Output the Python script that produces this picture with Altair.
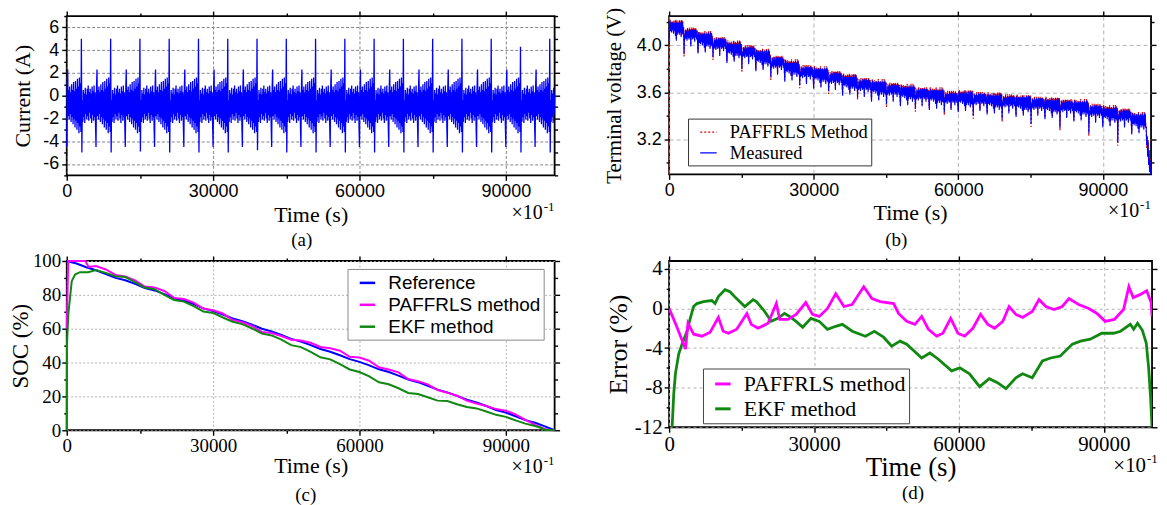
import json
import altair as alt
import pandas as pd

SERIF = "Liberation Serif"
SANS = "Liberation Sans"

# ---------------- shared axis ticks ----------------
X_MAJ = [0, 30000, 60000, 90000]
X_MIN = [15000, 45000, 75000]
X_DOM = [0, 100000]

# ---------------- (a) current profile ----------------
# one repeated test cycle (6000 units long, one value every 100 units, starting at the big pulse)
CUR_STEP = 100
CUR_CYCLE = 6000
CUR_FIRST = 3000
cur_cycle = [
    None, None, -0.4, -2.3, 0.5, -1.9, 0.2, -2.4, 0.7, -1.6,
    0.1, -2.1, 0.6, -1.8, 0.9, -2.2, 0.3, -1.5, 0.6, -2.0,
    0.2, -2.4, 0.8, -1.7, 0.4, -2.2, 0.9, -1.9, 0.3, -2.6,
    -4.5, 0.6, 2.3, -1.8, 0.5, -2.1, 0.8, -1.6, 0.3, -2.3,
    1.0, -1.9, 0.5, -2.5, 1.2, -2.0, 0.4, -2.8, 1.3, -2.2,
    0.6, -3.0, 1.5, -2.4, 0.8, -3.3, 1.6, -2.7, 1.1, -3.2,
]
pulse_hi = [5.0, 5.0, 5.0, 5.0, 5.0, 5.0, 5.0, 5.0, 5.0, 5.0, 5.0, 5.0, 5.0, 5.0, 5.0, 4.3, 5.0]
pulse_lo = [-5.0, -5.0, -4.9, -5.0, -5.0, -5.0, -4.8, -5.0, -5.0, -5.0, -5.0, -5.0, -5.0, -5.0, -5.0, -5.0, -5.0]

# ---------------- (b) terminal voltage ----------------
# upper edge of the measured band, one value per 3000 units
v_edge = [4.21, 4.15, 4.11, 4.07, 4.03, 4.00, 3.96, 3.91, 3.87, 3.83, 3.81, 3.78,
          3.75, 3.72, 3.70, 3.68, 3.66, 3.64, 3.63, 3.61, 3.61, 3.60, 3.59, 3.58,
          3.57, 3.56, 3.55, 3.54, 3.53, 3.50, 3.48, 3.46, 3.42, 3.30]
# ripple under the edge inside one cycle (None = big pulse dip)
v_cycle = [
    0.00, None, -0.06, -0.10, -0.02, -0.09, -0.03, -0.11, -0.01, -0.08,
    -0.03, -0.10, -0.01, -0.09, -0.02, -0.16, -0.01, -0.08, -0.02, -0.10,
    -0.01, -0.09, -0.02, -0.12, -0.01, -0.08, -0.02, -0.10, -0.03, -0.12,
    -0.18, -0.02, 0.00, -0.09, -0.02, -0.10, -0.01, -0.08, -0.02, -0.11,
    -0.01, -0.09, -0.02, -0.13, 0.00, -0.17, -0.02, -0.12, -0.01, -0.10,
    -0.02, -0.12, 0.00, -0.10, -0.02, -0.14, 0.00, -0.11, -0.01, -0.12,
]
v_dip = [3.93, 3.90, 3.80, 3.73, 3.66, 3.61, 3.56, 3.50, 3.46, 3.43, 3.40, 3.37,
         3.33, 3.30, 3.25, 3.17, 3.15]
v_tail_t = [99200, 99300, 99400, 99500, 99600, 99700, 99800, 99900, 100000]
v_tail = [3.22, 3.05, 3.18, 2.98, 3.10, 2.92, 3.02, 2.90, 2.95]
paffrls_v_shift = 0.012
paffrls_dip_extra = -0.025
paffrls_v_start = 2.90

# ---------------- (c) SOC ----------------
soc_ref_t = list(range(0, 100001, 2000))
soc_ref = [100.0, 98.5, 96.3, 94.5, 92.3, 90.0, 88.6, 86.5, 84.0, 82.6, 80.4, 78.0, 76.5,
           74.5, 72.0, 70.4, 68.4, 66.0, 64.4, 62.4, 60.0, 58.4, 56.3, 54.0, 52.4, 50.3,
           48.0, 46.4, 44.3, 42.0, 40.4, 38.3, 36.0, 34.4, 32.3, 30.0, 28.4, 26.3, 24.0,
           22.4, 20.3, 18.0, 16.4, 14.3, 12.0, 10.4, 8.3, 6.0, 4.4, 2.3, 0.0]
soc_pa_t = [0, 300, 3800, 4500] + list(range(6000, 98001, 2000)) + [99000, 100000]
soc_pa = [60.0, 100.0, 100.0, 96.5,
          97.0, 95.0, 91.8, 90.8, 88.6, 84.9, 84.4, 82.3, 78.2, 77.6, 75.4, 71.9, 70.9,
          69.0, 65.1, 63.8, 61.6, 58.1, 57.4, 55.7, 53.5, 53.0, 51.7, 49.2, 48.4, 47.0,
          43.4, 43.0, 41.1, 37.2, 35.9, 34.2, 30.3, 29.0, 27.1, 23.8, 22.2, 20.4, 17.5,
          15.8, 14.3, 12.5, 11.6, 9.4, 6.1, 3.2, 0.7,
          0.2, 0.0]
soc_ekf_t = [0, 50, 340, 1020, 1700, 2700, 4400] + list(range(6000, 96001, 2000)) + [97000, 98000, 100000]
soc_ekf = [0.0, 51.0, 69.0, 88.0, 92.0, 93.4, 93.4,
           94.6, 93.0, 91.0, 90.5, 87.5, 84.3, 83.3, 80.0, 76.9, 76.0, 73.3, 70.2, 69.3,
           66.6, 64.1, 62.7, 60.1, 57.2, 56.0, 53.5, 50.3, 49.1, 46.3, 43.1, 41.9, 39.1,
           35.9, 34.4, 31.8, 28.3, 27.2, 24.8, 22.0, 21.4, 19.5, 17.5, 17.3, 15.4, 13.7,
           12.9, 11.1, 9.1, 7.9, 5.8, 3.9, 2.5,
           1.6, 0.3, 0.0]

# ---------------- (d) error ----------------
err_pa_t = [0, 1300, 3400, 3900, 5100, 6800, 8500, 10200, 11200, 12300, 14000, 16100, 17000,
            18400, 20500, 22200, 22900, 24600, 26300, 28300, 29700, 31100, 32800, 34500,
            36200, 37900, 40300, 42000, 43700, 46500, 47500, 49200, 50900, 52300, 53700,
            55400, 56700, 58300, 59800, 61200, 62900, 64500, 66000, 67400, 69100, 70400,
            71800, 73200, 75200, 76600, 78000, 79700, 81400, 82800, 84800, 86900, 88600,
            90300, 92200, 94100, 95200, 96100, 97500, 98900, 99800, 100000]
err_pa = [0.0, -1.5, -4.1, -1.5, -2.6, -2.8, -2.4, -0.9, -2.3, -2.5, -2.1, -0.5, -1.6,
          -2.0, -1.5, 0.5, -1.1, -1.1, -0.6, 0.6, -0.6, -0.8, 0.0, 1.5,
          0.2, 0.4, 2.2, 1.0, 0.7, 0.5, -0.5, -1.3, -1.6, -0.8, -2.1,
          -2.8, -2.5, -1.0, -2.5, -2.8, -2.0, -0.6, -1.6, -2.0, -1.3, 0.2,
          -0.6, -0.9, -0.3, 0.9, 0.2, -0.1, 0.2, 1.0, 0.4, 0.0, -0.5,
          -1.3, -1.1, -0.1, 2.2, 1.1, 1.4, 1.8, 0.6, -0.8]
err_ekf_t = [0, 300, 620, 960, 1300, 1980, 2670, 3700, 4380, 5060, 5750, 7120, 8830, 9510,
             10200, 11570, 12600, 13960, 15670, 17380, 18070, 19780, 21150, 22520, 23890,
             24920, 26290, 27660, 29370, 31080, 32790, 34500, 35870, 37920, 40660, 42500,
             44400, 46100, 47800, 49200, 52300, 54000, 55700, 58500, 60200, 62200, 64300,
             66300, 68000, 69750, 71800, 73200, 75200, 77300, 79000, 81000, 83500, 85200,
             87200, 89600, 92000, 93500, 95500, 96200, 97000, 98000, 98800, 99300, 99700, 100000]
err_ekf = [-100.0, -30.0, -12.0, -8.6, -6.6, -4.6, -3.6, -2.3, -1.0, 0.2, 0.5, 0.7, 0.8, 0.5,
           1.2, 1.9, 1.7, 1.0, 0.2, 0.9, 0.7, -0.3, -1.3, -1.0, -0.5,
           -0.8, -1.3, -1.9, -1.0, -1.3, -2.1, -1.8, -1.6, -2.3, -2.8, -2.3,
           -2.9, -3.8, -3.3, -3.6, -5.0, -4.5, -5.1, -6.3, -6.0, -6.6, -7.9,
           -7.1, -7.5, -8.1, -7.0, -6.6, -7.0, -5.3, -5.0, -4.8, -3.6, -3.3,
           -3.1, -2.5, -2.5, -2.3, -1.6, -2.1, -1.5, -2.2, -3.5, -6.0, -9.0, -12.0]

# ================= build tables =================
cur_rows = []
for k in range(-1, 17):
    base = CUR_FIRST + CUR_CYCLE * k
    for i, val in enumerate(cur_cycle):
        t = base + i * CUR_STEP
        if t < 0 or t > 100000:
            continue
        if i == 0:
            val = pulse_hi[k]
        elif i == 1:
            val = pulse_lo[k]
        cur_rows.append({"t": t, "v": val})
df_cur = pd.DataFrame(cur_rows)

meas_rows, est_rows = [], [{"t": 0, "v": paffrls_v_start, "s": "PAFFRLS Method"}]
for t in range(0, 99101, CUR_STEP):
    k = (t - CUR_FIRST) // CUR_CYCLE
    i = ((t - CUR_FIRST) % CUR_CYCLE) // CUR_STEP
    off = v_cycle[i]
    if off is None:
        val = v_dip[k]
        est = val + paffrls_dip_extra
    else:
        val = v_edge[t // 3000] + off
        est = val + paffrls_v_shift
    meas_rows.append({"t": t, "v": round(val, 4), "s": "Measured"})
    est_rows.append({"t": t, "v": round(est, 4), "s": "PAFFRLS Method"})
for t, val in zip(v_tail_t, v_tail):
    meas_rows.append({"t": t, "v": val, "s": "Measured"})
    est_rows.append({"t": t, "v": val + paffrls_v_shift, "s": "PAFFRLS Method"})
df_meas = pd.DataFrame(meas_rows)
df_est = pd.DataFrame(est_rows)

df_ref = pd.DataFrame({"t": soc_ref_t, "v": soc_ref, "s": "Reference"})
df_pa = pd.DataFrame({"t": soc_pa_t, "v": soc_pa, "s": "PAFFRLS method"})
df_ekf = pd.DataFrame({"t": soc_ekf_t, "v": soc_ekf, "s": "EKF method"})
df_epa = pd.DataFrame({"t": err_pa_t, "v": err_pa, "s": "PAFFRLS method"})
df_eekf = pd.DataFrame({"t": err_ekf_t, "v": err_ekf, "s": "EKF method"})


# ================= helpers =================
def major_test(vals):
    return f"indexof({json.dumps(vals)}, datum.value) >= 0"


def main_axis(values, majors, fmt, lfont, lsize, lpad, title, tfont, tsize, tpad, gcolor, gdash):
    test = major_test(majors)
    return alt.Axis(
        values=values, format=fmt,
        labelExpr=f"{test} ? replace(datum.label, '\u2212', '-') : ''",
        labelFont=lfont, labelFontSize=lsize, labelColor="black", labelPadding=lpad,
        labelFlush=False, labelOverlap=False,
        tickColor="black", tickWidth=1.4,
        tickSize={"condition": {"test": test, "value": 5}, "value": 3},
        domain=False,
        grid=True, gridColor=gcolor, gridDash=gdash, gridWidth=0.9,
        gridOpacity={"condition": {"test": test, "value": 1}, "value": 0},
        title=title, titleFont=tfont, titleFontSize=tsize, titleFontWeight="normal",
        titleColor="black", titlePadding=tpad,
    )


def mirror_axis(values, majors, orient):
    test = major_test(majors)
    return alt.Axis(values=values, orient=orient, labels=False, grid=False, domain=False,
                    title=None, tickColor="black", tickWidth=1.4,
                    tickSize={"condition": {"test": test, "value": 5}, "value": 3})


def scale(dom):
    return alt.Scale(domain=dom, nice=False, zero=False)


def mirror_layer(ydom, yvals, ymaj):
    df = pd.DataFrame({"t": [X_DOM[0]], "v": [ydom[0]]})
    return alt.Chart(df).mark_point(opacity=0).encode(
        x=alt.X("t:Q", scale=scale(X_DOM), axis=mirror_axis(sorted(X_MAJ + X_MIN), X_MAJ, "top")),
        y=alt.Y("v:Q", scale=scale(ydom), axis=mirror_axis(yvals, ymaj, "right")),
    )


def text_layer(txt, x, y, size, align="center", font=SERIF, baseline="alphabetic"):
    return alt.Chart(pd.DataFrame({"a": [0]})).mark_text(
        text=txt, font=font, fontSize=size, color="black", align=align, baseline=baseline
    ).encode(x=alt.value(x), y=alt.value(y))


def decorations(W, H, letter, lx, ly, xy, sy, xr, size=20):
    return [
        text_layer("\u00d710", xr, H + xy, size, align="right"),
        text_layer("-1", xr + 1, H + sy, 13, align="left"),
        text_layer(letter, lx, ly, 19, baseline="middle"),
    ]


def legend(x, y, font, size, sym, length, width, stroke, row_pad, pad=3):
    half = length / sym / 2
    return alt.Legend(
        title=None, orient="none", legendX=x, legendY=y,
        symbolType=f"M-{half:.3f},0L{half:.3f},0", symbolSize=sym * sym,
        symbolStrokeWidth=width, symbolOffset=(length - sym) / 2,
        labelFont=font, labelFontSize=size, labelColor="black",
        labelOffset=4 + (length - sym) / 2,
        strokeColor=stroke, fillColor="white", padding=pad, rowPadding=row_pad, labelLimit=300,
    )


X_ALL = sorted(X_MAJ + X_MIN)

# ================= panel (a) =================
WA, HA = 490, 160
YA_DOM = [-7, 7]
YA_MAJ = [-6, -4, -2, 0, 2, 4, 6]
YA_ALL = [-7, -6, -5, -4, -3, -2, -1, 0, 1, 2, 3, 4, 5, 6, 7]
la = alt.Chart(df_cur).mark_line(color="#0000ff", strokeWidth=1.3).encode(
    x=alt.X("t:Q", scale=scale(X_DOM),
            axis=main_axis(X_ALL, X_MAJ, "d", SANS, 18, 2, "Time (s)", SERIF, 22, 4, "#777", [3, 2])),
    y=alt.Y("v:Q", scale=scale(YA_DOM),
            axis=main_axis(YA_ALL, YA_MAJ, "d", SANS, 18, 3, "Current (A)", SERIF, 22, 8, "#777", [3, 2])),
)
panel_a = alt.layer(la, mirror_layer(YA_DOM, YA_ALL, YA_MAJ),
                    *decorations(WA, HA, "(a)", 236, 225, 44, 36, WA - 12)
                    ).resolve_axis(x="independent", y="independent").properties(width=WA, height=HA)

# ================= panel (b) =================
WB, HB = 484, 159
YB_DOM = [2.9, 4.25]
YB_MAJ = [3.2, 3.6, 4.0]
YB_ALL = [3.0, 3.2, 3.4, 3.6, 3.8, 4.0, 4.2]
leg_b = legend(19, 103, SERIF, 18.5, 19, 33, 1.3, "#333", 1)
col_b = alt.Color("s:N", scale=alt.Scale(domain=["PAFFRLS Method", "Measured"], range=["#e00000", "#0000ff"]), legend=leg_b)
dash_b = alt.StrokeDash("s:N", scale=alt.Scale(domain=["PAFFRLS Method", "Measured"], range=[[2, 2], [1, 0]]), legend=leg_b)
lb1 = alt.Chart(df_est).mark_line(strokeWidth=1.2).encode(
    x=alt.X("t:Q", scale=scale(X_DOM),
            axis=main_axis(X_ALL, X_MAJ, "d", SANS, 18, 2, "Time (s)", SERIF, 22, 3, "#aaa", [4, 3])),
    y=alt.Y("v:Q", scale=scale(YB_DOM),
            axis=main_axis(YB_ALL, YB_MAJ, ".1f", SANS, 18, 3, "Terminal voltage (V)", SERIF, 21, 12, "#aaa", [4, 3])),
    color=col_b, strokeDash=dash_b,
)
lb2 = alt.Chart(df_meas).mark_line(strokeWidth=1.1).encode(
    x=alt.X("t:Q", scale=scale(X_DOM), axis=None),
    y=alt.Y("v:Q", scale=scale(YB_DOM), axis=None),
    color=col_b, strokeDash=dash_b,
)
panel_b = alt.layer(lb1, lb2, mirror_layer(YB_DOM, YB_ALL, YB_MAJ),
                    *decorations(WB, HB, "(b)", 228, 225, 43, 35, WB - 12)
                    ).resolve_axis(x="independent", y="independent").properties(width=WB, height=HB)

# ================= panel (c) =================
WC, HC = 490, 170
YC_DOM = [0, 100]
YC_MAJ = [0, 20, 40, 60, 80, 100]
YC_ALL = list(range(0, 101, 10))
SER_C = ["Reference", "PAFFRLS method", "EKF method"]
leg_c = legend(282, 8, SANS, 19, 19, 31, 2.5, "#888", 1)
col_c = alt.Color("s:N", scale=alt.Scale(domain=SER_C, range=["#0000ff", "#ff00ff", "#118811"]), legend=leg_c)
lc1 = alt.Chart(df_ref).mark_line(strokeWidth=2.0).encode(
    x=alt.X("t:Q", scale=scale(X_DOM),
            axis=main_axis(X_ALL, X_MAJ, "d", SERIF, 19, 1, "Time (s)", SERIF, 22, 0, "#aaa", [2, 2])),
    y=alt.Y("v:Q", scale=scale(YC_DOM),
            axis=main_axis(YC_ALL, YC_MAJ, "d", SERIF, 19, 1, "SOC (%)", SERIF, 23, 0, "#aaa", [2, 2])),
    color=col_c,
)
lc2 = alt.Chart(df_pa).mark_line(strokeWidth=2.0).encode(
    x=alt.X("t:Q", scale=scale(X_DOM), axis=None), y=alt.Y("v:Q", scale=scale(YC_DOM), axis=None), color=col_c)
lc3 = alt.Chart(df_ekf).mark_line(strokeWidth=2.0).encode(
    x=alt.X("t:Q", scale=scale(X_DOM), axis=None), y=alt.Y("v:Q", scale=scale(YC_DOM), axis=None), color=col_c)
panel_c = alt.layer(lc1, lc2, lc3, mirror_layer(YC_DOM, YC_ALL, YC_MAJ),
                    *decorations(WC, HC, "(c)", 240, 235, 43, 35, WC - 12)
                    ).resolve_axis(x="independent", y="independent").properties(width=WC, height=HC)

# ================= panel (d) =================
WD, HD = 485, 167
YD_DOM = [-12, 4.8]
YD_MAJ = [-12, -8, -4, 0, 4]
YD_ALL = [-12, -10, -8, -6, -4, -2, 0, 2, 4]
SER_D = ["PAFFRLS method", "EKF method"]
leg_d = legend(34, 108, SERIF, 22, 22, 31, 3, "#444", 1)
col_d = alt.Color("s:N", scale=alt.Scale(domain=SER_D, range=["#ff00ff", "#118811"]), legend=leg_d)
ld1 = alt.Chart(df_eekf).mark_line(strokeWidth=2.8, clip=True).encode(
    x=alt.X("t:Q", scale=scale(X_DOM),
            axis=main_axis(X_ALL, X_MAJ, "d", SERIF, 21, 1, "Time (s)", SERIF, 27, 0, "#aaa", [3, 3])),
    y=alt.Y("v:Q", scale=scale(YD_DOM),
            axis=main_axis(YD_ALL, YD_MAJ, "d", SERIF, 21, 2, "Error (%)", SERIF, 26, 3, "#aaa", [3, 3])),
    color=col_d,
)
ld2 = alt.Chart(df_epa).mark_line(strokeWidth=2.8, clip=True).encode(
    x=alt.X("t:Q", scale=scale(X_DOM), axis=None), y=alt.Y("v:Q", scale=scale(YD_DOM), axis=None), color=col_d)
panel_d = alt.layer(ld1, ld2, mirror_layer(YD_DOM, YD_ALL, YD_MAJ),
                    *decorations(WD, HD, "(d)", 245, 233, 45, 36, WD - 6, size=21)
                    ).resolve_axis(x="independent", y="independent").properties(width=WD, height=HD)

chart = alt.concat(panel_a, panel_b, panel_c, panel_d, columns=2,
                   spacing={"row": 86, "column": 115}, bounds="flush").resolve_scale(
    color="independent", strokeDash="independent").resolve_legend(
    color="independent", strokeDash="independent").configure_view(
    stroke="black", strokeWidth=1.8).properties(
    padding={"left": 0, "top": -3, "right": 0, "bottom": 0}, background="white")

chart.save("out.html", embed_options={"renderer": "svg", "actions": False})
